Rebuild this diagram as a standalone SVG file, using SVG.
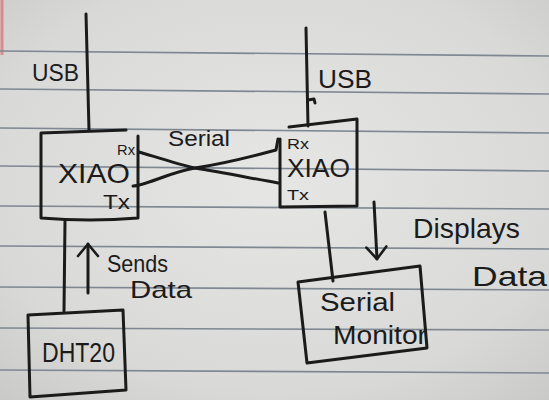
<svg xmlns="http://www.w3.org/2000/svg" width="549" height="400" viewBox="0 0 549 400">
<defs>
<radialGradient id="paper" cx="0.5" cy="0.45" r="0.75">
<stop offset="0" stop-color="#e6e6e4"/>
<stop offset="0.7" stop-color="#d9d9d7"/>
<stop offset="1" stop-color="#c9c9c7"/>
</radialGradient>
<marker id="vhead" markerUnits="userSpaceOnUse" markerWidth="26" markerHeight="26" viewBox="-14 -13 18 26" refX="0" refY="0" orient="auto">
<path d="M-12 -10 L0 0 L-12 10" fill="none" stroke="#1b1b1b" stroke-width="2.6" stroke-linecap="round" stroke-linejoin="round"/>
</marker>
<style>
.ink{fill:none;stroke:#1b1b1b;stroke-width:3;stroke-linecap:round;stroke-linejoin:round}
.rule{stroke:#7f8791;stroke-width:1.6}
.t{font-family:"Liberation Sans","DejaVu Sans",sans-serif;fill:#1b1b1b}
</style>
</defs>
<rect width="549" height="400" fill="url(#paper)"/>
<line x1="2" y1="0" x2="2" y2="55" stroke="#d98b8b" stroke-width="3"/>
<g id="rules">
<line class="rule" x1="0" y1="51" x2="549" y2="56"/>
<line class="rule" x1="0" y1="89" x2="549" y2="94"/>
<line class="rule" x1="0" y1="128" x2="549" y2="133"/>
<line class="rule" x1="0" y1="166" x2="549" y2="171"/>
<line class="rule" x1="0" y1="206" x2="549" y2="209"/>
<line class="rule" x1="0" y1="246" x2="549" y2="249"/>
<line class="rule" x1="0" y1="287" x2="549" y2="290"/>
<line class="rule" x1="0" y1="328" x2="549" y2="330"/>
<line class="rule" x1="0" y1="370" x2="549" y2="373"/>
</g>
<g id="connectors">
<path class="ink" d="M86 14 L89 130"/>
<path class="ink" d="M306 28 L308 126 M308 100 L314 99 L315 103"/>
<path class="ink" d="M139 152 C160 158 180 165 195 168 C215 165 250 157 276 150 L278 139"/>
<path class="ink" d="M133 186 C145 186 170 172 195 168 C220 172 250 178 278 183"/>
<path class="ink" d="M65 221 L64 311"/>
<path class="ink" d="M88 293 L88 244" marker-end="url(#vhead)"/>
<path class="ink" d="M325 212 L333 281"/>
<path class="ink" d="M374 202 L377 259" marker-end="url(#vhead)"/>
</g>
<g id="labels">
<text class="t" x="32" y="81" font-size="24" textLength="47" lengthAdjust="spacingAndGlyphs">USB</text>
<text class="t" x="318" y="88" font-size="26" textLength="54" lengthAdjust="spacingAndGlyphs">USB</text>
<text class="t" x="168" y="146" font-size="22" textLength="62" lengthAdjust="spacingAndGlyphs">Serial</text>
<text class="t" x="107" y="272" font-size="24" textLength="61" lengthAdjust="spacingAndGlyphs">Sends</text>
<text class="t" x="130" y="298" font-size="24" textLength="62" lengthAdjust="spacingAndGlyphs">Data</text>
<text class="t" x="413" y="238" font-size="28" textLength="107" lengthAdjust="spacingAndGlyphs">Displays</text>
<text class="t" x="472" y="286" font-size="28" textLength="75" lengthAdjust="spacingAndGlyphs">Data</text>
</g>
<g id="xiao-left">
<path class="ink" d="M126 130 L41 133 L41 218 Q90 222 138 218 L138 136"/>
<text class="t" x="117" y="155" font-size="15" textLength="18" lengthAdjust="spacingAndGlyphs">Rx</text>
<text class="t" x="58" y="183" font-size="27" textLength="72" lengthAdjust="spacingAndGlyphs">XIAO</text>
<text class="t" x="103" y="209" font-size="20" textLength="27" lengthAdjust="spacingAndGlyphs">Tx</text>
</g>
<g id="xiao-right">
<path class="ink" d="M289 127 L357 119 L357 206 L280 207 L280 139"/>
<text class="t" x="287" y="149" font-size="14" textLength="22" lengthAdjust="spacingAndGlyphs">Rx</text>
<text class="t" x="287" y="177" font-size="26" textLength="63" lengthAdjust="spacingAndGlyphs">XIAO</text>
<text class="t" x="287" y="200" font-size="15" textLength="22" lengthAdjust="spacingAndGlyphs">Tx</text>
</g>
<g id="dht20">
<path class="ink" d="M28 315 L123 310 L126 390 L30 397 Z"/>
<text class="t" x="42" y="362" font-size="28" textLength="73" lengthAdjust="spacingAndGlyphs">DHT20</text>
</g>
<g id="serial-monitor">
<path class="ink" d="M298 282 L420 266 L427 348 L307 363 Z"/>
<text class="t" x="320" y="311" font-size="26" textLength="75" lengthAdjust="spacingAndGlyphs">Serial</text>
<text class="t" x="333" y="344" font-size="26" textLength="94" lengthAdjust="spacingAndGlyphs">Monitor</text>
</g>
</svg>
